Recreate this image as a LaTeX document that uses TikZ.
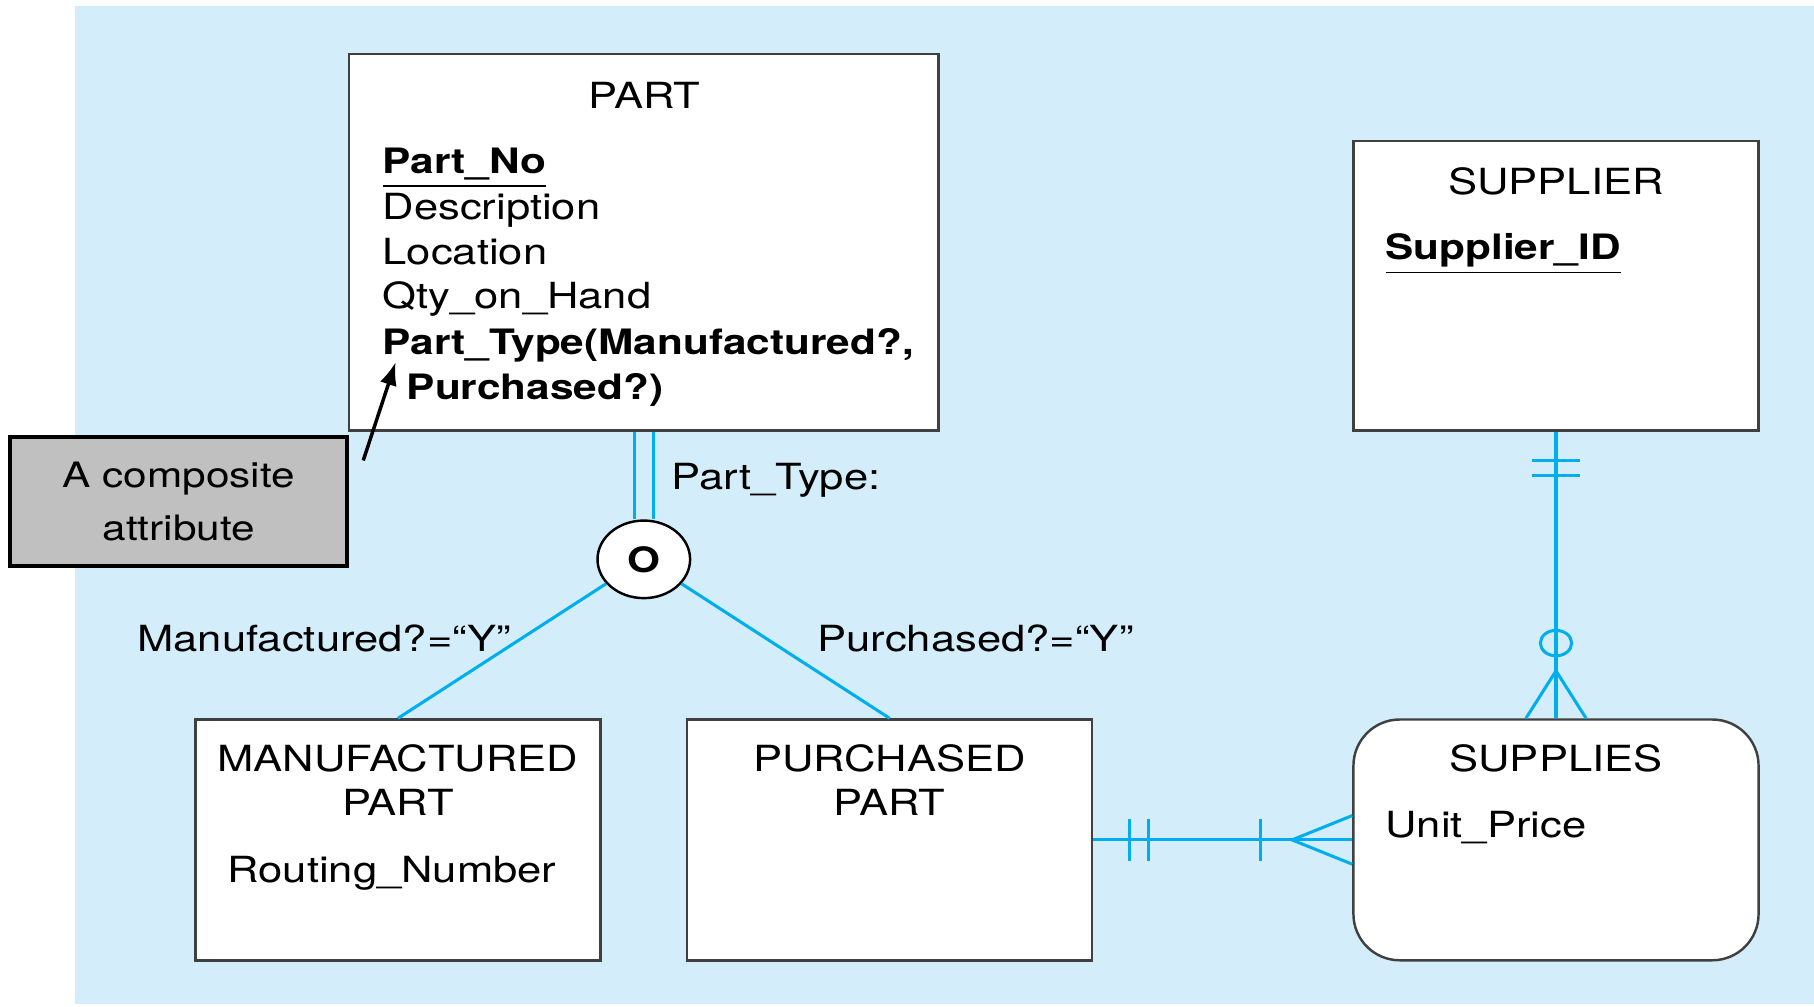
\documentclass[tikz,border=0pt]{standalone}
\usepackage{fontspec}
\setmainfont{TeX Gyre Heros}[FakeStretch=1.21]
\usetikzlibrary{calc,arrows.meta,shapes.geometric}
\definecolor{fondo}{RGB}{211,238,250}
\definecolor{azul}{RGB}{0,174,239}
\definecolor{gris}{RGB}{192,192,192}
\tikzset{
  entidad/.style={draw=black!75, line width=0.6pt, fill=white, inner sep=0pt},
  texto/.style={anchor=base west, inner sep=0pt, font=\fontsize{8.85}{10}\selectfont},
  negrita/.style={anchor=base west, inner sep=0pt, font=\fontsize{8.6}{10}\selectfont\bfseries},
  titulo/.style={anchor=base, inner sep=0pt, font=\fontsize{8.85}{10}\selectfont},
  rel/.style={azul, line width=0.75pt},
}

\begin{document}
\begin{tikzpicture}[x=0.01cm,y=-0.01cm]
  % Fondo
  \useasboundingbox (0,0) rectangle (1568,870);
  \fill[fondo] (65,5) rectangle (1568,868);
  % Entidades
  \node[entidad, minimum width=5.09cm, minimum height=3.25cm] (part) at (556.5,209.5) {};
  \node[entidad, minimum width=3.5cm, minimum height=2.5cm] (supplier) at (1345,247) {};
  \node[entidad, minimum width=3.5cm, minimum height=2.08cm] (mp) at (344,726) {};
  \node[entidad, minimum width=3.5cm, minimum height=2.08cm] (pp) at (769,726) {};
  \node[entidad, rounded corners=0.4cm, minimum width=3.5cm, minimum height=2.08cm] (supplies) at (1345,726) {};
  % Atributos de PART
  \node[titulo] (partnom) at (557,94) {PART};
  \node[negrita] (partno) at (330,150) {\underline{Part\_No}};
  \node[texto] (desc) at (330,190) {Description};
  \node[texto] (loc) at (330,229) {Location};
  \node[texto] (qty) at (330,267) {Qty\_on\_Hand};
  \node[negrita] (tipo) at (330,306) {Part\_Type(Manufactured?,};
  \node[negrita] (tipob) at (351,345) {Purchased?)};
  % Atributos de SUPPLIER
  \node[titulo] (supnom) at (1345,168) {SUPPLIER};
  \node[negrita] (supid) at (1197,224) {\underline{Supplier\_ID}};
  % Subtipos
  \node[titulo] (mpnom) at (344,667) {MANUFACTURED};
  \node[titulo] (mpnomb) at (344,705) {PART};
  \node[texto] (ruta) at (196,763) {Routing\_Number};
  \node[titulo] (ppnom) at (769,667) {PURCHASED};
  \node[titulo] (ppnomb) at (769,705) {PART};
  % Entidad asociativa
  \node[titulo] (suppnom) at (1345,667) {SUPPLIES};
  \node[texto] (precio) at (1197,724) {Unit\_Price};
  % Nota
  \node[draw=black, line width=1pt, fill=gris, minimum width=2.91cm, minimum height=1.11cm,
    inner sep=0pt, align=center, font=\fontsize{8.6}{12.8}\selectfont] (nota) at (154.5,433.5) {A composite\\attribute};
  \coordinate (cola) at (314,398);
  \coordinate (punta) at (342,313);
  \draw[line width=0.85pt, -{Latex[length=2mm,width=1.5mm]}] (cola) -- (punta);
  % Circulo de solapamiento
  \node[ellipse, draw=black, line width=0.6pt, fill=white, minimum width=0.8cm, minimum height=0.67cm,
    inner sep=0pt, font=\fontsize{8.6}{10}\selectfont\bfseries] (o) at (556.5,483.5) {O};
  \draw[rel] ($(part.south)+(-8,0)$) -- ($(o.north)+(-8,0)$);
  \draw[rel] ($(part.south)+(8,0)$) -- ($(o.north)+(8,0)$);
  \draw[rel] (o) -- (mp.north);
  \draw[rel] (o) -- (pp.north);
  % Etiquetas del subtipo
  \node[texto] (discr) at (580,423) {Part\_Type:};
  \node[texto] (etiqm) at (118,563) {Manufactured?=“Y”};
  \node[texto] (etiqp) at (706,563) {Purchased?=“Y”};
  % SUPPLIER - SUPPLIES
  \draw[rel] (supplier.south) -- (supplies.north);
  \draw[rel] ($(supplier.south)+(-21,25)$) -- ++(42,0);
  \draw[rel] ($(supplier.south)+(-21,38)$) -- ++(42,0);
  \draw[rel] ($(supplies.north)+(0,-65)$) ellipse [x radius=0.135cm, y radius=0.11cm];
  \draw[rel] ($(supplies.north)+(-26,0)$) -- ($(supplies.north)+(0,-41)$) -- ($(supplies.north)+(26,0)$);
  % PURCHASED PART - SUPPLIES
  \draw[rel] (pp.east) -- (supplies.west);
  \draw[rel] ($(pp.east)+(31,-18)$) -- ++(0,36);
  \draw[rel] ($(pp.east)+(48,-18)$) -- ++(0,36);
  \draw[rel] ($(supplies.west)+(-79,-18)$) -- ++(0,36);
  \draw[rel] ($(supplies.west)+(0,-21)$) -- ($(supplies.west)+(-52,0)$) -- ($(supplies.west)+(0,21)$);
\end{tikzpicture}
\end{document}
